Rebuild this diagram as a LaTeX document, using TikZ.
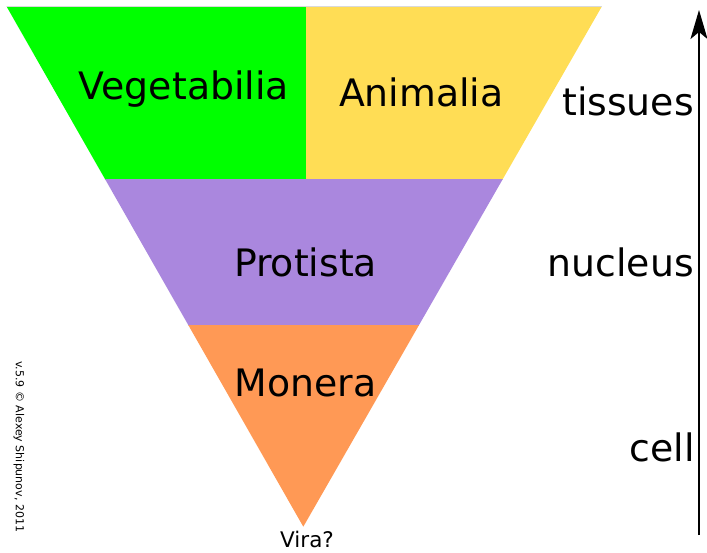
\documentclass[tikz,border=0pt]{standalone}
\usepackage{fontspec}
\setmainfont{DejaVu Sans}
\usetikzlibrary{arrows.meta}
\definecolor{cveg}{HTML}{00FF00}
\definecolor{cani}{HTML}{FFDD55}
\definecolor{cpro}{HTML}{AA87DE}
\definecolor{cmon}{HTML}{FF9955}
\tikzset{
  bigtxt/.style={inner sep=0pt, font=\fontsize{37.8}{44}\selectfont},
  smalltxt/.style={inner sep=0pt, font=\fontsize{21.5}{26}\selectfont},
  tinytxt/.style={inner sep=0pt, font=\fontsize{11}{13}\selectfont},
}
\begin{document}
\begin{tikzpicture}[x=1pt,y=-1pt]
\useasboundingbox (0,0) rectangle (707,552);
\coordinate (tl) at (6.7,6.7);
\coordinate (tr) at (601.7,6.7);
\coordinate (ap) at (303.3,526.7);
\begin{scope}
  \clip (tl) -- (tr) -- (ap) -- cycle;
  \fill[cveg] (0,0) rectangle (306,179.5);
  \fill[cani] (306,0) rectangle (610,179.5);
  \fill[cpro] (0,179) rectangle (610,325.5);
  \fill[cmon] (0,325) rectangle (610,540);
\end{scope}
\draw[gray!30, line width=0.6pt] (tl) -- (tr);
\node[bigtxt, anchor=base] (veg) at (183.8,99.5) {Vegetabilia};
\node[bigtxt, anchor=base] (ani) at (421.3,106) {Animalia};
\node[bigtxt, anchor=base] (pro) at (305.5,276) {Protista};
\node[bigtxt, anchor=base] (mon) at (305.5,396) {Monera};
\node[bigtxt, anchor=base east] (tis) at (694,115.5) {tissues};
\node[bigtxt, anchor=base east] (nuc) at (694,276) {nucleus};
\node[bigtxt, anchor=base east] (cel) at (695,461) {cell};
\node[smalltxt, anchor=base] (vira) at (307,547) {Vira?};
\node[tinytxt, rotate=-90] (copy) at (19,446.7) {v.5.9 © Alexey Shipunov, 2011};
\coordinate (abot) at (699,535);
\coordinate (atop) at (699,10);
\draw[line width=2pt, -{Stealth[length=29pt,width=17pt,inset=7pt]}] (abot) -- (atop);
\end{tikzpicture}
\end{document}
